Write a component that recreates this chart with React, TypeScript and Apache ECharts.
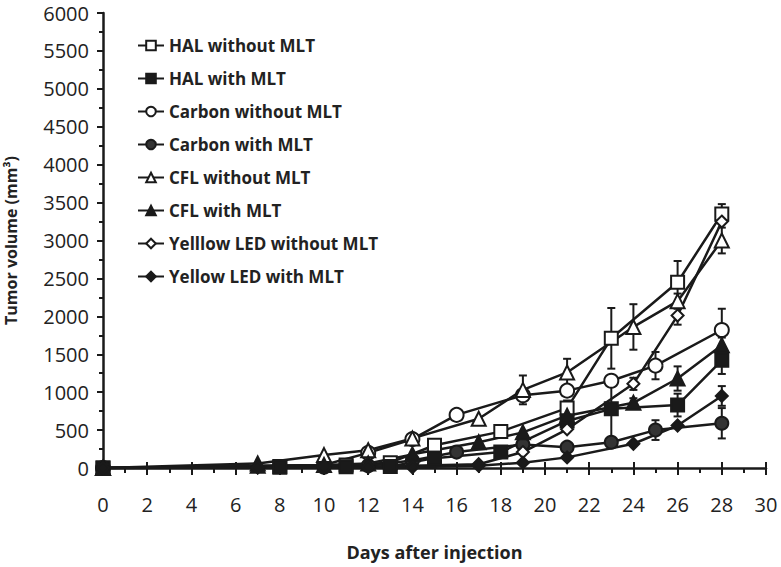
import React, { useEffect, useRef } from "react";
import * as echarts from "echarts";

// [day, volume, error]
const halWithout = [[0,0,0],[8,20,0],[11,40,0],[13,70,0],[15,300,0],[18,480,50],[21,790,100],[23,1710,400],[26,2450,280],[28,3350,130]];
const halWith = [[0,0,0],[8,10,0],[11,15,0],[13,20,0],[15,130,0],[18,210,0],[21,620,0],[23,780,400],[26,830,150],[28,1420,180]];
const carbonWithout = [[0,0,0],[10,40,0],[12,200,0],[14,380,0],[16,700,0],[19,960,0],[21,1020,0],[23,1150,0],[25,1350,180],[28,1820,280]];
const carbonWith = [[0,0,0],[10,10,0],[12,30,0],[14,100,0],[16,210,0],[19,310,0],[21,275,0],[23,340,60],[25,500,130],[28,590,200]];
const cflWithout = [[0,0,0],[7,60,0],[10,170,0],[12,235,0],[14,390,0],[17,650,0],[19,1030,190],[21,1260,180],[24,1860,300],[26,2200,100],[28,3000,170]];
const cflWith = [[0,0,0],[7,30,0],[10,40,0],[12,60,0],[14,180,0],[17,340,0],[19,470,0],[21,690,0],[24,860,60],[26,1180,160],[28,1620,100]];
const ledWithout = [[0,0,0],[7,10,0],[10,15,0],[12,20,0],[14,30,0],[17,50,0],[19,210,0],[21,510,0],[24,1110,80],[26,2010,120],[28,3250,0]];
const ledWith = [[0,0,0],[7,5,0],[10,5,0],[12,10,0],[14,10,0],[17,30,0],[19,70,0],[21,140,0],[24,320,0],[26,560,0],[28,950,130]];

const seriesDefs = [
  { name: "HAL without MLT", data: halWithout, symbol: "rect", filled: false, size: 13 },
  { name: "HAL with MLT", data: halWith, symbol: "rect", filled: true, size: 13 },
  { name: "Carbon without MLT", data: carbonWithout, symbol: "circle", filled: false, size: 14 },
  { name: "Carbon with MLT", data: carbonWith, symbol: "circle", filled: true, size: 13 },
  { name: "CFL without MLT", data: cflWithout, symbol: "triangle", filled: false, size: 14 },
  { name: "CFL with MLT", data: cflWith, symbol: "triangle", filled: true, size: 14 },
  { name: "Yelllow LED without MLT", data: ledWithout, symbol: "diamond", filled: false, size: 12 },
  { name: "Yellow LED with MLT", data: ledWith, symbol: "diamond", filled: true, size: 12 },
];

const xTicks = [0, 30, 2];
const yTicks = [0, 6000, 500];

export default function App() {
  const ref = useRef<HTMLDivElement>(null);
  useEffect(() => {
    if (!ref.current) return;
    const chart = echarts.init(ref.current, undefined, { renderer: "svg" });
    const font = "'Open Sans', sans-serif";
    const ink = "#1a1a1a";
    const lineSeries: any[] = seriesDefs.map((s) => ({
      name: s.name,
      type: "line",
      data: s.data.map((d) => [d[0], d[1]]),
      symbol: s.symbol,
      symbolSize: s.size,
      showSymbol: true,
      z: 3,
      lineStyle: { color: ink, width: 2.5 },
      itemStyle: {
        color: s.filled ? (s.symbol === "circle" ? "#333" : ink) : "#fff",
        borderColor: ink,
        borderWidth: 2,
      },
    }));
    const errSeries: any[] = seriesDefs.map((s) => ({
      name: s.name + " err",
      type: "custom",
      data: s.data.filter((d) => d[2] > 0),
      z: 2,
      silent: true,
      renderItem: (params: any, api: any) => {
        const x = api.value(0);
        const y = api.value(1);
        const e = api.value(2);
        const top = api.coord([x, y + e]);
        const bot = api.coord([x, y - e]);
        const w = 4;
        const st = { stroke: ink, lineWidth: 2 };
        return {
          type: "group",
          children: [
            { type: "line", shape: { x1: top[0], y1: top[1], x2: bot[0], y2: bot[1] }, style: st },
            { type: "line", shape: { x1: top[0] - w, y1: top[1], x2: top[0] + w, y2: top[1] }, style: st },
            { type: "line", shape: { x1: bot[0] - w, y1: bot[1], x2: bot[0] + w, y2: bot[1] }, style: st },
          ],
        };
      },
      encode: { x: 0, y: 1 },
    }));
    chart.setOption({
      animation: false,
      backgroundColor: "#fff",
      grid: { left: 103, right: 15, top: 13, bottom: 99, containLabel: false, outerBoundsMode: "none" },
      legend: {
        data: seriesDefs.map((s) => s.name),
        orient: "vertical",
        left: 132,
        top: 32,
        itemGap: 16,
        itemWidth: 26,
        itemHeight: 12,
        textStyle: { fontFamily: font, fontWeight: "bold", fontSize: 17, color: "#222" },
      },
      xAxis: [
        {
          type: "value",
          min: xTicks[0],
          max: xTicks[1],
          interval: xTicks[2],
          name: "Days after injection",
          nameLocation: "middle",
          nameGap: 75,
          nameTextStyle: { fontFamily: font, fontWeight: "bold", fontSize: 18, color: "#222" },
          axisLine: { lineStyle: { color: ink, width: 2.5 } },
          axisTick: { length: 7, lineStyle: { color: ink, width: 2 } },
          minorTick: { show: true, splitNumber: 2, length: 5, lineStyle: { color: ink, width: 2 } },
          axisLabel: { fontFamily: font, fontSize: 20, color: "#222", margin: 26 },
          splitLine: { show: false },
        },
        {
          type: "value",
          position: "bottom",
          min: xTicks[0],
          max: xTicks[1],
          interval: xTicks[2],
          axisLine: { show: false },
          axisTick: { show: true, inside: true, length: 6, lineStyle: { color: ink, width: 2 } },
          axisLabel: { show: false },
          splitLine: { show: false },
        },
      ],
      yAxis: {
        type: "value",
        min: yTicks[0],
        max: yTicks[1],
        interval: yTicks[2],
        name: "Tumor volume (mm³)",
        nameLocation: "middle",
        nameGap: 84,
        nameTextStyle: { fontFamily: font, fontWeight: "bold", fontSize: 16, color: "#222" },
        axisLine: { show: true, lineStyle: { color: ink, width: 2.5 } },
        axisTick: { show: true, length: 6, lineStyle: { color: ink, width: 2 } },
        minorTick: { show: true, splitNumber: 2, length: 4, lineStyle: { color: ink, width: 2 } },
        axisLabel: { fontFamily: font, fontSize: 20, lineHeight: 16, color: "#222", margin: 14, formatter: (v: number) => String(v) },
        splitLine: { show: false },
      },
      series: [...errSeries, ...lineSeries],
    });
    return () => chart.dispose();
  }, []);
  return <div ref={ref} style={{ width: 781, height: 567, position: "absolute", left: 0, top: 0 }} />;
}
